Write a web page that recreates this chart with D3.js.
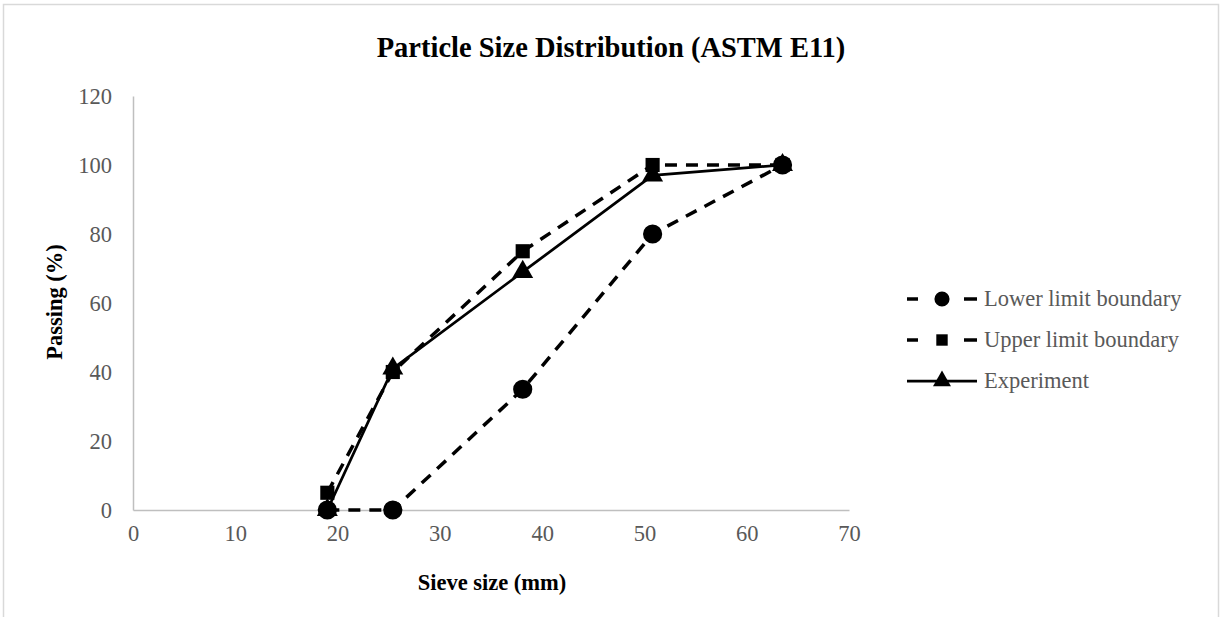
<!DOCTYPE html>
<html>
<head>
<meta charset="utf-8">
<script src="https://cdn.jsdelivr.net/npm/d3@7"></script>
<style>
  body { margin: 0; background: #fff; }
  text { font-family: "Liberation Serif", "Times New Roman", serif; }
</style>
</head>
<body>
<script>
// wrap everything in a self-executing anonymous function
(function(){

//chart data
var sieveSizes = [19, 25.4, 38.1, 50.8, 63.5];
var lowerLimit = [0, 0, 35, 80, 100];
var upperLimit = [5, 40, 75, 100, 100];
var experiment = [0, 41, 69, 97, 100];
var seriesNames = ["Lower limit boundary", "Upper limit boundary", "Experiment"];
var xTicks = [0, 10, 20, 30, 40, 50, 60, 70];
var yTicks = [0, 20, 40, 60, 80, 100, 120];

var width = 1222, height = 617;
var margin = {left: 133, right: 1222 - 849, top: 96, bottom: 617 - 510};
var fontSize = "22.5px";

var svg = d3.select("body").append("svg")
    .attr("width", width)
    .attr("height", height);

//chart border
svg.append("rect")
    .attr("x", 3.5).attr("y", 4.5)
    .attr("width", 1215).attr("height", 640)
    .attr("fill", "#fff")
    .attr("stroke", "#d9d9d9")
    .attr("stroke-width", 1.5);

var x = d3.scaleLinear().domain([0, 70]).range([margin.left, width - margin.right]);
var y = d3.scaleLinear().domain([0, 120]).range([height - margin.bottom, margin.top]);

//axes
var xAxis = svg.append("g")
    .attr("transform", "translate(0," + y(0) + ")")
    .call(d3.axisBottom(x).tickValues(xTicks).tickSize(0).tickPadding(15));
var yAxis = svg.append("g")
    .attr("transform", "translate(" + x(0) + ",0)")
    .call(d3.axisLeft(y).tickValues(yTicks).tickSize(0).tickPadding(21));

[xAxis, yAxis].forEach(function(a){
    a.attr("font-size", null).attr("font-family", null);
    a.select(".domain").attr("stroke", "#bfbfbf").attr("stroke-width", 1.5);
    a.selectAll("text")
        .attr("fill", "#595959")
        .style("font-size", fontSize);
});

//title and axis titles
svg.append("text")
    .attr("x", 611).attr("y", 57)
    .attr("text-anchor", "middle")
    .style("font-size", "28.5px").style("font-weight", "bold")
    .text("Particle Size Distribution (ASTM E11)");

svg.append("text")
    .attr("x", 492).attr("y", 590)
    .attr("text-anchor", "middle")
    .style("font-size", fontSize).style("font-weight", "bold")
    .text("Sieve size (mm)");

svg.append("text")
    .attr("transform", "translate(62,302) rotate(-90)")
    .attr("text-anchor", "middle")
    .style("font-size", fontSize).style("font-weight", "bold")
    .text("Passing (%)");

//series setup
var series = [
    {name: seriesNames[0], values: lowerLimit, dash: "12,9", symbol: d3.symbolCircle, size: 290, legendSize: 180},
    {name: seriesNames[1], values: upperLimit, dash: "12,9", symbol: d3.symbolSquare, size: 200, legendSize: 130},
    {name: seriesNames[2], values: experiment, dash: null, symbol: d3.symbolTriangle, size: 190, legendSize: 140}
];

var line = d3.line()
    .x(function(d){ return x(d[0]); })
    .y(function(d){ return y(d[1]); });

series.forEach(function(s){
    var pts = sieveSizes.map(function(v, i){ return [v, s.values[i]]; });
    svg.append("path")
        .datum(pts)
        .attr("d", line)
        .attr("fill", "none")
        .attr("stroke", "#000")
        .attr("stroke-width", s.dash ? 3.5 : 2.75)
        .attr("stroke-dasharray", s.dash);
    svg.selectAll(null)
        .data(pts)
        .enter()
        .append("path")
        .attr("d", d3.symbol().type(s.symbol).size(s.size))
        .attr("transform", function(d){ return "translate(" + x(d[0]) + "," + y(d[1]) + ")"; })
        .attr("fill", "#000");
});

//legend
var legend = svg.append("g");
series.forEach(function(s, i){
    var ly = 299 + i * 41;
    var g = legend.append("g").attr("transform", "translate(0," + ly + ")");
    if (s.dash) {
        g.append("line").attr("x1", 907).attr("x2", 918).attr("y1", 0).attr("y2", 0)
            .attr("stroke", "#000").attr("stroke-width", 3.5);
        g.append("line").attr("x1", 964).attr("x2", 977).attr("y1", 0).attr("y2", 0)
            .attr("stroke", "#000").attr("stroke-width", 3.5);
    } else {
        g.append("line").attr("x1", 907).attr("x2", 977).attr("y1", 0).attr("y2", 0)
            .attr("stroke", "#000").attr("stroke-width", 2.75);
    }
    g.append("path")
        .attr("d", d3.symbol().type(s.symbol).size(s.legendSize))
        .attr("transform", "translate(942,0)")
        .attr("fill", "#000");
    g.append("text")
        .attr("x", 984).attr("y", 0).attr("dy", "0.32em")
        .attr("fill", "#595959")
        .style("font-size", fontSize)
        .text(s.name);
});

})();
</script>
</body>
</html>
